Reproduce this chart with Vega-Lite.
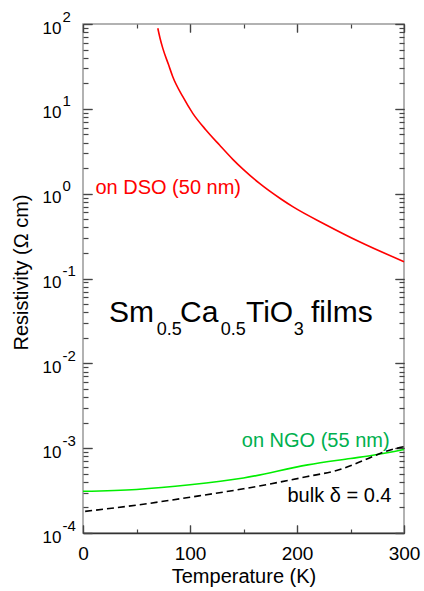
{
  "$schema": "https://vega.github.io/schema/vega-lite/v6.json",
  "width": 321,
  "height": 509,
  "autosize": {"type": "none"},
  "padding": {"left": 83, "top": 24, "right": 20, "bottom": 58},
  "background": "white",
  "config": {
    "view": {"stroke": "#999999", "strokeWidth": 1.5},
    "font": "Liberation Sans",
    "axis": {
      "labelFont": "Liberation Sans",
      "titleFont": "Liberation Sans",
      "labelColor": "black",
      "titleColor": "black",
      "titleFontWeight": "normal",
      "labelFlush": false,
      "labelOverlap": false,
      "labelBound": false,
      "grid": false,
      "domain": false
    }
  },
  "datasets": {
    "curves": [
      {"series": "DSO", "T": 69.9, "rho": 89},
      {"series": "DSO", "T": 72, "rho": 68},
      {"series": "DSO", "T": 74.6, "rho": 51.6},
      {"series": "DSO", "T": 80, "rho": 33},
      {"series": "DSO", "T": 83.9, "rho": 23.9},
      {"series": "DSO", "T": 93.3, "rho": 13.9},
      {"series": "DSO", "T": 102.6, "rho": 8.85},
      {"series": "DSO", "T": 115.1, "rho": 5.6},
      {"series": "DSO", "T": 127.6, "rho": 3.74},
      {"series": "DSO", "T": 140, "rho": 2.54},
      {"series": "DSO", "T": 150, "rho": 1.92},
      {"series": "DSO", "T": 165, "rho": 1.32},
      {"series": "DSO", "T": 185, "rho": 0.865},
      {"series": "DSO", "T": 196, "rho": 0.703},
      {"series": "DSO", "T": 227.3, "rho": 0.428},
      {"series": "DSO", "T": 258.4, "rho": 0.271},
      {"series": "DSO", "T": 300, "rho": 0.158},
      {"series": "NGO", "T": 0, "rho": 0.00031},
      {"series": "NGO", "T": 50, "rho": 0.000326},
      {"series": "NGO", "T": 100, "rho": 0.00037},
      {"series": "NGO", "T": 150, "rho": 0.000445},
      {"series": "NGO", "T": 210, "rho": 0.000635},
      {"series": "NGO", "T": 250, "rho": 0.000756},
      {"series": "NGO", "T": 270.8, "rho": 0.000826},
      {"series": "NGO", "T": 300, "rho": 0.000966},
      {"series": "bulk", "T": 2, "rho": 0.00018},
      {"series": "bulk", "T": 50, "rho": 0.000213},
      {"series": "bulk", "T": 100, "rho": 0.000264},
      {"series": "bulk", "T": 150, "rho": 0.000332},
      {"series": "bulk", "T": 208.6, "rho": 0.00046},
      {"series": "bulk", "T": 240, "rho": 0.00056},
      {"series": "bulk", "T": 264.7, "rho": 0.00074},
      {"series": "bulk", "T": 283.4, "rho": 0.00092},
      {"series": "bulk", "T": 300, "rho": 0.00104}
    ],
    "labels": [
      {"text": "on DSO (50 nm)", "T": 11.6, "rho": 1.0, "kind": "DSO"},
      {"text": "on NGO (55 nm)", "T": 148.4, "rho": 0.001035, "kind": "NGO"},
      {"text": "bulk δ = 0.4", "T": 191.1, "rho": 0.000233, "kind": "bulk"},
      {"text": "Sm", "T": 24.3, "rho": 0.0309, "kind": "main"},
      {"text": "0.5", "T": 68.9, "rho": 0.0215, "kind": "sub"},
      {"text": "Ca", "T": 90.7, "rho": 0.0309, "kind": "main"},
      {"text": "0.5", "T": 128.7, "rho": 0.0215, "kind": "sub"},
      {"text": "TiO", "T": 152.3, "rho": 0.0309, "kind": "main"},
      {"text": "3", "T": 197, "rho": 0.0215, "kind": "sub"},
      {"text": "films", "T": 213.1, "rho": 0.0309, "kind": "main"}
    ]
  },
  "layer": [
    {
      "data": {"name": "curves"},
      "transform": [{"filter": "datum.series === 'NGO'"}],
      "mark": {"type": "line", "color": "#00ee00", "strokeWidth": 1.6, "interpolate": "monotone"},
      "encoding": {
        "x": {
          "field": "T", "type": "quantitative",
          "scale": {"domain": [0, 300], "nice": false, "zero": false},
          "axis": {
            "orient": "bottom",
            "values": [0, 100, 200, 300],
            "tickSize": -8,
            "tickColor": "#444444",
            "tickWidth": 1.2,
            "labelFontSize": 19,
            "labelPadding": 19,
            "title": "Temperature (K)",
            "titleFontSize": 20,
            "titlePadding": 3
          }
        },
        "y": {
          "field": "rho", "type": "quantitative",
          "scale": {"type": "log", "domain": [0.0001, 100], "nice": false},
          "axis": {
            "orient": "left",
            "values": [0.0001, 0.001, 0.01, 0.1, 1, 10, 100],
            "tickSize": -9,
            "tickColor": "#444444",
            "tickWidth": 1.2,
            "labelExpr": "'10'",
            "labelFontSize": 17,
            "labelPadding": 31,
            "labelAlign": "right",
            "labelBaseline": "middle",
            "labelOffset": 4,
            "title": "Resistivity (Ω cm)",
            "titleFontSize": 20,
            "titlePadding": 11,
            "titleY": 248
          }
        }
      }
    },
    {
      "data": {"name": "curves"},
      "transform": [{"filter": "datum.series === 'DSO'"}],
      "mark": {"type": "line", "color": "#ff0000", "strokeWidth": 1.6, "interpolate": "monotone"},
      "encoding": {
        "x": {
          "field": "T", "type": "quantitative",
          "scale": {"domain": [0, 300], "nice": false, "zero": false},
          "axis": {
            "orient": "bottom",
            "values": [50, 150, 250],
            "tickSize": -4,
            "tickColor": "#444444",
            "tickWidth": 1.2,
            "labels": false,
            "title": null
          }
        },
        "y": {
          "field": "rho", "type": "quantitative",
          "scale": {"type": "log", "domain": [0.0001, 100], "nice": false},
          "axis": {
            "orient": "left",
            "values": [0.0002,0.0003,0.0004,0.0005,0.0006,0.0007,0.0008,0.0009,
                       0.002,0.003,0.004,0.005,0.006,0.007,0.008,0.009,
                       0.02,0.03,0.04,0.05,0.06,0.07,0.08,0.09,
                       0.2,0.3,0.4,0.5,0.6,0.7,0.8,0.9,
                       2,3,4,5,6,7,8,9,
                       20,30,40,50,60,70,80,90],
            "tickSize": -5,
            "tickColor": "#444444",
            "tickWidth": 1.2,
            "labels": false,
            "title": null
          }
        }
      }
    },
    {
      "data": {"name": "curves"},
      "transform": [{"filter": "datum.series === 'bulk'"}],
      "mark": {"type": "line", "color": "black", "strokeWidth": 1.6, "strokeDash": [7, 4], "interpolate": "monotone"},
      "encoding": {
        "x": {
          "field": "T", "type": "quantitative",
          "scale": {"domain": [0, 300], "nice": false, "zero": false},
          "axis": {
            "orient": "top",
            "values": [0, 100, 200, 300],
            "tickSize": -8,
            "tickColor": "#444444",
            "tickWidth": 1.2,
            "labels": false,
            "title": null
          }
        },
        "y": {
          "field": "rho", "type": "quantitative",
          "scale": {"type": "log", "domain": [0.0001, 100], "nice": false},
          "axis": {
            "orient": "right",
            "values": [0.0001, 0.001, 0.01, 0.1, 1, 10, 100],
            "tickSize": -9,
            "tickColor": "#444444",
            "tickWidth": 1.2,
            "labels": false,
            "title": null
          }
        }
      }
    },
    {
      "data": {"name": "labels"},
      "transform": [{"filter": "datum.kind === 'DSO' || datum.kind === 'NGO' || datum.kind === 'bulk'"}],
      "mark": {"type": "text", "align": "left", "baseline": "alphabetic", "font": "Liberation Sans", "fontSize": 20},
      "encoding": {
        "x": {
          "field": "T", "type": "quantitative",
          "scale": {"domain": [0, 300], "nice": false, "zero": false},
          "axis": {
            "orient": "top",
            "values": [50, 150, 250],
            "tickSize": -4,
            "tickColor": "#444444",
            "tickWidth": 1.2,
            "labels": false,
            "title": null
          }
        },
        "y": {
          "field": "rho", "type": "quantitative",
          "scale": {"type": "log", "domain": [0.0001, 100], "nice": false},
          "axis": {
            "orient": "right",
            "values": [0.0002,0.0003,0.0004,0.0005,0.0006,0.0007,0.0008,0.0009,
                       0.002,0.003,0.004,0.005,0.006,0.007,0.008,0.009,
                       0.02,0.03,0.04,0.05,0.06,0.07,0.08,0.09,
                       0.2,0.3,0.4,0.5,0.6,0.7,0.8,0.9,
                       2,3,4,5,6,7,8,9,
                       20,30,40,50,60,70,80,90],
            "tickSize": -5,
            "tickColor": "#444444",
            "tickWidth": 1.2,
            "labels": false,
            "title": null
          }
        },
        "text": {"field": "text"},
        "color": {
          "field": "kind", "type": "nominal", "legend": null,
          "scale": {"domain": ["DSO", "NGO", "bulk"], "range": ["#ff0000", "#00b04f", "black"]}
        }
      }
    },
    {
      "data": {"name": "labels"},
      "transform": [{"filter": "datum.kind === 'main'"}],
      "mark": {"type": "text", "align": "left", "baseline": "alphabetic", "font": "Liberation Sans", "fontSize": 30, "color": "black"},
      "encoding": {
        "x": {
          "field": "T", "type": "quantitative",
          "scale": {"domain": [0, 300], "nice": false, "zero": false},
          "axis": {
            "orient": "top",
            "values": [0, 100, 200, 300],
            "tickSize": -8,
            "tickColor": "#444444",
            "tickWidth": 1.2,
            "labels": false,
            "title": null
          }
        },
        "y": {
          "field": "rho", "type": "quantitative",
          "scale": {"type": "log", "domain": [0.0001, 100], "nice": false},
          "axis": {
            "orient": "left",
            "values": [0.0001, 0.001, 0.01, 0.1, 1, 10, 100],
            "tickSize": -9,
            "tickColor": "#444444",
            "tickWidth": 1.2,
            "labelExpr": "'' + round(log(datum.value)/LN10)",
            "labelFontSize": 15,
            "labelPadding": 30,
            "labelAlign": "left",
            "labelBaseline": "middle",
            "labelOffset": -8,
            "title": null
          }
        },
        "text": {"field": "text"}
      }
    },
    {
      "data": {"name": "labels"},
      "transform": [{"filter": "datum.kind === 'sub'"}],
      "mark": {"type": "text", "align": "left", "baseline": "alphabetic", "font": "Liberation Sans", "fontSize": 18, "color": "black"},
      "encoding": {
        "x": {
          "field": "T", "type": "quantitative",
          "scale": {"domain": [0, 300], "nice": false, "zero": false},
          "axis": {
            "orient": "bottom",
            "values": [0, 100, 200, 300],
            "domain": true,
            "domainColor": "#333333",
            "domainWidth": 1.5,
            "tickSize": -8,
            "tickColor": "#444444",
            "tickWidth": 1.2,
            "labels": false,
            "title": null
          }
        },
        "y": {
          "field": "rho", "type": "quantitative",
          "scale": {"type": "log", "domain": [0.0001, 100], "nice": false},
          "axis": {
            "orient": "right",
            "values": [0.0001, 0.001, 0.01, 0.1, 1, 10, 100],
            "tickSize": -9,
            "tickColor": "#444444",
            "tickWidth": 1.2,
            "labels": false,
            "title": null
          }
        },
        "text": {"field": "text"}
      }
    }
  ],
  "resolve": {"axis": {"x": "independent", "y": "independent"}}
}
